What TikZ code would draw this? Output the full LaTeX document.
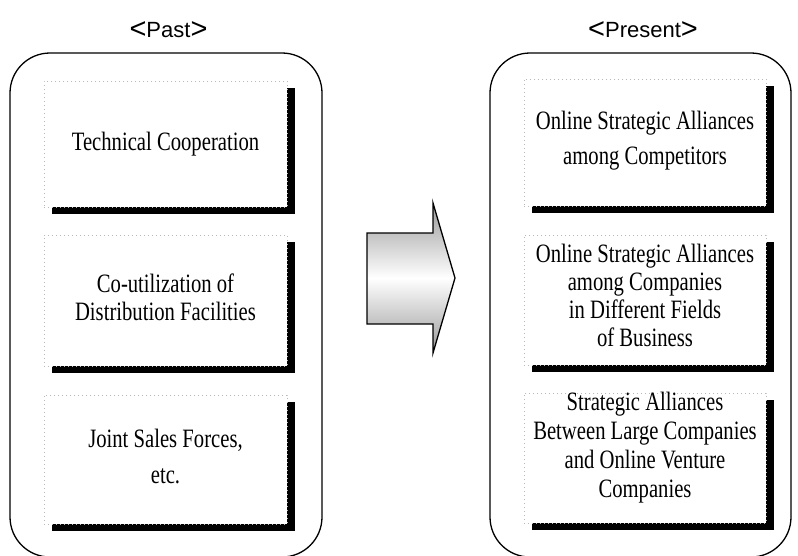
\documentclass[tikz,border=0pt]{standalone}
\usepackage{fontspec}
\newfontfamily\boxfont{Liberation Serif}[FakeStretch=0.78]
\newfontfamily\titlefont{Liberation Sans}
\usetikzlibrary{shadows}

\tikzset{
  panel/.style={draw=black, line width=1.3pt, rounded corners=40pt,
    minimum width=312pt, inner sep=0pt},
  itembox/.style={rectangle, fill=white, draw=gray!55, line width=0.7pt,
    dash pattern=on 0.8pt off 3.2pt, inner sep=0pt, align=center,
    minimum width=243pt,
    general shadow={fill=black, shadow xshift=8pt, shadow yshift=-7pt}},
  itemtext/.style={font=\boxfont\fontsize{26.5}{28}\selectfont,
    align=center, inner sep=0pt},
  heading/.style={font=\titlefont\fontsize{22}{24}\selectfont, anchor=base},
  shiftarrow/.style={draw=black, line width=1.3pt, line join=miter,
    top color=gray!80, bottom color=gray!80, middle color=white},
}

% large angle brackets around the headings
\newcommand{\lt}{\raisebox{-1.5pt}{\fontsize{29}{24}\selectfont<}}
\newcommand{\gt}{\raisebox{-1.5pt}{\fontsize{29}{24}\selectfont>}}

\begin{document}
\begin{tikzpicture}[x=1pt, y=-1pt]
  \useasboundingbox (0,0) rectangle (798,555);

  % headings
  \node[heading] (pasthead) at (168.5,37) {\lt Past\gt};
  \node[heading] (presenthead) at (643,37) {\lt Present\gt};

  % outer rounded panels
  \node[panel, minimum height=504pt] (pastpanel) at (166,305) {};
  \node[panel, minimum width=301pt, minimum height=504pt] (presentpanel) at (640.5,305) {};

  % past column
  \node[itembox, minimum height=126pt] (past1) at (165.5,144) {};
  \node[itemtext] (past1text) at (165.5,144) {Technical Cooperation};
  \node[itembox, minimum height=131pt] (past2) at (165.5,300.5) {};
  \node[itemtext] (past2text) at (165.5,297) {Co-utilization of\\Distribution Facilities};
  \node[itembox, minimum height=129pt] (past3) at (165.5,459.5) {};
  \node[itemtext] (past3text) at (165.5,456) {Joint Sales Forces,\\[8pt]etc.};

  % present column
  \node[itembox, minimum width=242pt, minimum height=127pt] (present1) at (645,142.5) {};
  \node[itemtext] (present1text) at (645,141)
    {Online Strategic Alliances\\[7pt]among Competitors};
  \node[itembox, minimum width=242pt, minimum height=130pt] (present2) at (645,300) {};
  \node[itemtext] (present2text) at (645,295)
    {Online Strategic Alliances\\among Companies\\in Different Fields\\of Business};
  \node[itembox, minimum width=242pt, minimum height=130pt] (present3) at (645,458) {};
  \node[itemtext] (present3text) at (645,448)
    {Strategic Alliances\\[1pt]Between Large Companies\\[1pt]and Online Venture\\[1pt]Companies};

  % shift arrow from past to present
  \path[shiftarrow] (367,233) -- (433,233) -- (433,203) -- (455,278)
    -- (433,353) -- (433,324) -- (367,324) -- cycle;
\end{tikzpicture}
\end{document}
